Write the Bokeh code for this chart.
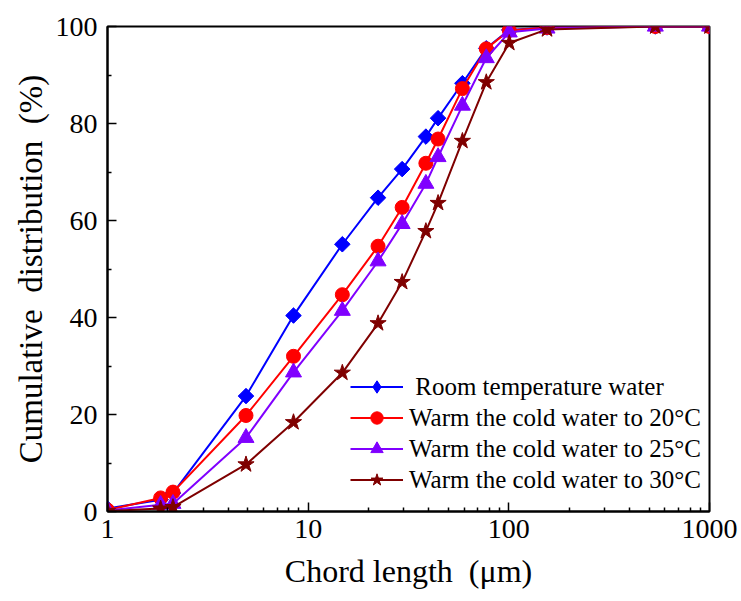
from bokeh.plotting import figure
from bokeh.models import FixedTicker, Range1d, Legend, LegendItem, BasicTickFormatter
from bokeh.embed import file_html
from bokeh.resources import INLINE

chord_length = [1.0, 1.84, 2.12, 4.9, 8.45, 14.8, 22.3, 29.4, 38.6, 44.4, 58.7, 77.2, 100.5, 155, 537, 1000]
room_temp = [0.6, 2.4, 3.8, 23.8, 40.4, 55.1, 64.7, 70.6, 77.3, 81.1, 88.3, 95.5, 99.3, 99.8, 100, 100]
warm_20 = [0.3, 2.8, 4.0, 19.8, 32.0, 44.7, 54.7, 62.7, 71.8, 76.8, 87.2, 95.4, 99.2, 99.8, 100, 100]
warm_25 = [0.2, 1.4, 1.6, 15.2, 28.7, 41.4, 51.6, 59.3, 67.6, 73.1, 83.7, 93.5, 98.8, 99.6, 100, 100]
warm_30 = [0.1, 0.6, 0.9, 9.7, 18.4, 28.6, 38.8, 47.3, 57.8, 63.6, 76.4, 88.5, 96.6, 99.4, 100, 100]

series_labels = [" Room temperature water", "Warm the cold water to 20°C",
                 "Warm the cold water to 25°C", "Warm the cold water to 30°C"]
x_ticks = [1, 10, 100, 1000]
y_ticks = [0, 20, 40, 60, 80, 100]

FONT = "Liberation Serif"

p = figure(width=741, height=601, x_axis_type="log",
           x_range=Range1d(1, 1000), y_range=Range1d(0, 100),
           output_backend="svg", toolbar_location=None,
           min_border_left=107, min_border_right=32,
           min_border_top=26, min_border_bottom=90)
p.grid.visible = False
p.background_fill_color = "white"
p.border_fill_color = "white"
p.outline_line_color = "black"
p.outline_line_width = 2

minor_x = [m * d for d in (1, 10, 100) for m in range(2, 10)]
p.xaxis.ticker = FixedTicker(ticks=x_ticks, minor_ticks=minor_x)
p.xaxis.formatter = BasicTickFormatter(use_scientific=False)
p.yaxis.ticker = FixedTicker(ticks=y_ticks, minor_ticks=[10, 30, 50, 70, 90])

for ax in (p.xaxis[0], p.yaxis[0]):
    ax.axis_line_width = 2
    ax.axis_line_color = "black"
    ax.major_tick_in = 9
    ax.major_tick_out = 0
    ax.minor_tick_in = 4
    ax.minor_tick_out = 0
    ax.major_tick_line_width = 1.5
    ax.minor_tick_line_width = 1.5
    ax.major_tick_line_color = "black"
    ax.minor_tick_line_color = "black"
    ax.major_label_text_font = FONT
    ax.major_label_text_font_size = "28px"
    ax.major_label_text_color = "black"
    ax.axis_label_text_font = FONT
    ax.axis_label_text_font_size = "32px"
    ax.axis_label_text_font_style = "normal"
    ax.axis_label_text_color = "black"

p.yaxis.axis_label_text_font_size = "33px"
p.xaxis.axis_label = "Chord length\u00a0 (μm)"
p.yaxis.axis_label = "Cumulative\u00a0 distribution\u00a0 (%)"
p.xaxis.major_label_standoff = 8
p.yaxis.major_label_standoff = 10
p.xaxis.axis_label_standoff = 12
p.yaxis.axis_label_standoff = 4

colors = ["#0000FF", "#FF0000", "#8000FF", "#7F0000"]
ys = [room_temp, warm_20, warm_25, warm_30]
markers = ["square", "circle", "triangle", "star"]
legend_markers = ["diamond", "circle", "triangle", "star"]
sizes = [11, 14, 16, 17]
angles = [0.785398, 0, 0, 0]

items = []
for lab, y, c, m, lm, s, a in zip(series_labels, ys, colors, markers, legend_markers, sizes, angles):
    r1 = p.line(chord_length, y, line_color=c, line_width=2)
    if lm != m:
        # diamond glyph (hidden beneath the rotated squares) used for the legend
        r3 = p.scatter(chord_length, y, marker=lm, size=14, fill_color=c, line_color=c)
    r2 = p.scatter(chord_length, y, marker=m, size=s, angle=a,
                   fill_color=c, line_color=c)
    items.append(LegendItem(label=lab, renderers=[r1, r3 if lm != m else r2]))

legend = Legend(items=items, location=(243, 16), padding=0, margin=0,
                border_line_alpha=0, background_fill_alpha=0,
                label_text_font=FONT, label_text_font_size="25px",
                label_text_color="black",
                glyph_width=53, glyph_height=31, label_standoff=6,
                spacing=0)
p.add_layout(legend, "center")

open("out.html", "w").write(file_html(p, INLINE))
